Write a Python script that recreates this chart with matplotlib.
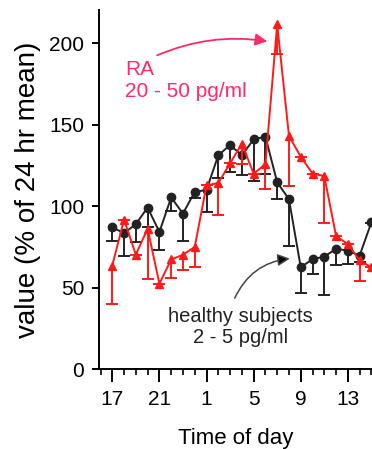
import numpy as np
import matplotlib.pyplot as plt
from matplotlib.ticker import MultipleLocator

plt.rcParams['font.family'] = ['Liberation Sans', 'DejaVu Sans']

# horas continuas (17h do dia 1 ate 15h do dia 2)
horas = list(range(17, 40))

# controles saudaveis (media e limite inferior da barra de erro)
saudavel = [87, 83.5, 89, 99.2, 84.2, 105.4, 95.5, 108.8, 110, 131.3, 137.6, 131.3,
            141, 142.8, 114.7, 104.3, 62.6, 67.4, 69.1, 73.8, 72.8, 69.7, 90.2]
saudavel_inf = [78.5, 69.2, 78, 87, 73.3, 97.2, 78.6, 105, 96.4, 117.5, 121.2, 119,
                115.8, 119.5, 104.6, 75.3, 46.5, 58.4, 45.8, 64.2, 64.6, 66, 90]

# pacientes com artrite reumatoide
ra = [63.6, 91.8, 70.3, 86.2, 52.5, 67.3, 70.2, 75, 112.8, 114.3, 126.3, 138.5,
      120, 125.8, 211.7, 143.3, 130.4, 120.1, 118.5, 81.7, 76.8, 66.7, 62.5]
ra_inf = [40, 91.8, 70.3, 55.5, 52.5, 55.9, 61, 62.6, 112.8, 94.9, 126.3, 126.2,
          120, 110.3, 193.8, 112.3, 130.4, 120.1, 89.7, 81.7, 76.8, 53.8, 62.5]

ticks_x = [17, 21, 25, 29, 33, 37]
rotulos_x = ['17', '21', '1', '5', '9', '13']

vermelho = '#ff1a1a'
rosa = '#ff2a6a'
preto = '#222222'

fig = plt.figure(figsize=(3.72, 4.49), dpi=100)
ax = fig.add_axes([0.267, 0.178, 0.733, 0.8])


def serie(y, inf, cor, marcador, z):
    # barra de erro so para baixo, com traco so na ponta de baixo
    ax.vlines(horas, inf, y, color=cor, lw=1.4, zorder=z)
    ax.plot(horas, inf, ls='none', marker='_', ms=9, mew=1.4, color=cor, zorder=z)
    ax.plot(horas, y, color=cor, marker=marcador, ms=6, lw=1.4, zorder=z)


serie(saudavel, saudavel_inf, preto, 'o', 2)
serie(ra, ra_inf, vermelho, '^', 3)

ax.set_xlim(15.9, 39.05)
ax.set_ylim(0, 220.6)
ax.set_yticks([0, 50, 100, 150, 200])
ax.set_xticks(ticks_x)
ax.set_xticklabels(rotulos_x)
ax.xaxis.set_minor_locator(MultipleLocator(1))

for lado in ['top', 'right']:
    ax.spines[lado].set_visible(False)
for lado in ['left', 'bottom']:
    ax.spines[lado].set_linewidth(1.4)
ax.tick_params(axis='y', which='major', direction='out', length=5, width=1.4,
               labelsize=15, pad=6)
ax.tick_params(axis='x', which='major', direction='out', length=9, width=1.4,
               labelsize=15, pad=6)
ax.tick_params(axis='x', which='minor', direction='out', length=4, width=1.2)

ax.set_ylabel('value (% of 24 hr mean)', fontsize=20, labelpad=6)
ax.set_xlabel('Time of day', fontsize=16, labelpad=14)

# anotacoes
ax.text(18.1, 190, 'RA\n20 - 50 pg/ml', color=rosa, fontsize=15, ha='left',
        va='top', linespacing=1.2)
ax.annotate('', xy=(30.4, 201), xytext=(20.6, 192),
            arrowprops=dict(arrowstyle='-|>', color=rosa, lw=1.3,
                            mutation_scale=18,
                            connectionstyle='arc3,rad=-0.15'))

ax.text(27.85, 38, 'healthy subjects\n2 - 5 pg/ml', color=preto, fontsize=14.5,
        ha='center', va='top', linespacing=1.1)
ax.annotate('', xy=(32.3, 68), xytext=(27.3, 42),
            arrowprops=dict(arrowstyle='-|>', color='#444444', lw=1.1,
                            mutation_scale=18, fc='black',
                            connectionstyle='arc3,rad=-0.3'))

fig.savefig('out.png', dpi=100)
